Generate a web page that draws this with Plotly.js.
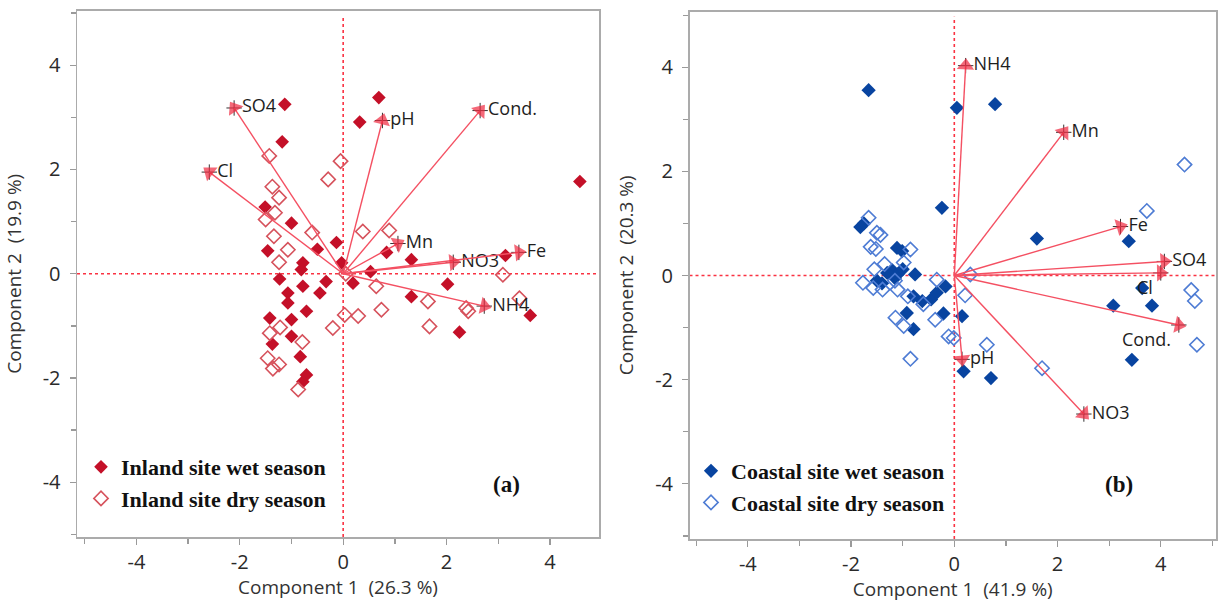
<!DOCTYPE html>
<html>
<head>
<meta charset="utf-8">
<script src="https://cdn.plot.ly/plotly-3.0.1.min.js"></script>
<style>
  html, body { margin: 0; padding: 0; background: #fff; }
  #chart { width: 1225px; height: 602px; }
</style>
</head>
<body>
<div id="chart"></div>
<script>
// ---------- Panel (a): Inland site ----------
const inlandWetX = [0.69, 0.32, -1.13, -1.18, 4.58, -1.51, -1.00, -0.13, -0.50, -1.46, -0.78, -0.81, -0.03, 0.84, 1.32, 0.53, 3.14, -1.23, -0.33, -0.78, 0.19, -1.07, -0.45, 2.02, -1.07, 1.32, -0.71, -1.42, -1.00, 3.62, -1.00, 2.25, -1.37, -0.83, -0.71, -0.78];
const inlandWetY = [3.38, 2.91, 3.25, 2.53, 1.77, 1.28, 0.97, 0.60, 0.47, 0.44, 0.21, 0.08, 0.21, 0.41, 0.27, 0.04, 0.35, -0.10, -0.15, -0.24, -0.18, -0.37, -0.37, -0.20, -0.56, -0.44, -0.72, -0.85, -0.88, -0.80, -1.20, -1.12, -1.35, -1.59, -1.94, -2.07];
const inlandDryX = [-1.43, -0.05, -0.29, -1.37, -1.24, -1.32, -1.50, -0.60, 0.38, 0.89, -1.34, -1.07, -1.24, 0.64, 3.09, 3.41, 1.64, 2.38, 2.42, 0.74, 0.29, 0.03, 1.67, -0.20, -1.22, -1.42, -0.79, -1.46, -1.24, -1.36, -0.87, 0.05];
const inlandDryY = [2.26, 2.16, 1.81, 1.67, 1.46, 1.17, 1.04, 0.79, 0.81, 0.83, 0.72, 0.46, 0.22, -0.24, -0.02, -0.47, -0.53, -0.66, -0.72, -0.69, -0.81, -0.79, -1.01, -1.04, -1.03, -1.14, -1.31, -1.62, -1.74, -1.82, -2.22, 0.00];
const inlandVars = ['SO4', 'Cl', 'pH', 'Cond.', 'Mn', 'NO3', 'Fe', 'NH4'];
const inlandLoadX = [-2.11, -2.59, 0.76, 2.65, 1.06, 2.13, 3.40, 2.73];
const inlandLoadY = [3.18, 1.95, 2.94, 3.13, 0.58, 0.22, 0.41, -0.62];
const inlandLabelPos = ['middle right', 'middle right', 'middle right', 'middle right', 'middle right', 'middle right', 'middle right', 'middle right'];

// ---------- Panel (b): Coastal site ----------
const coastalWetX = [-1.66, 0.05, 0.79, -0.24, -1.82, -1.75, -1.11, -1.01, -1.20, -1.10, -1.00, -1.15, -1.30, -1.50, -1.40, -0.76, -0.79, -0.62, -0.45, -0.34, -0.17, -0.92, -0.21, 0.15, -0.79, 0.18, 0.71, 1.60, 3.38, 3.64, 3.08, 3.83, 3.44];
const coastalWetY = [3.56, 3.22, 3.29, 1.30, 0.93, 1.00, 0.53, 0.47, 0.10, 0.02, 0.12, -0.05, 0.05, -0.10, -0.15, 0.02, -0.40, -0.49, -0.46, -0.33, -0.21, -0.72, -0.73, -0.78, -1.03, -1.84, -1.97, 0.71, 0.66, -0.24, -0.58, -0.58, -1.62];
const coastalDryX = [-1.66, -1.50, -1.43, -1.62, -1.52, -0.85, -1.35, -1.55, -0.98, -1.77, -1.57, -1.39, -1.15, -1.10, -0.34, 0.21, 0.31, -1.14, -0.98, -0.37, -0.11, -0.01, 0.63, -0.85, 4.46, 3.73, 4.59, 4.66, 4.70, 1.70, -0.60, -0.90];
const coastalDryY = [1.11, 0.82, 0.78, 0.55, 0.51, 0.50, 0.22, 0.12, 0.25, -0.14, -0.24, -0.27, -0.10, -0.27, -0.08, -0.38, 0.02, -0.81, -0.97, -0.85, -1.17, -1.20, -1.33, -1.60, 2.13, 1.24, -0.28, -0.49, -1.33, -1.78, -0.55, -0.40];
const coastalVars = ['NH4', 'Mn', 'Fe', 'SO4', 'Cl', 'Cond.', 'NO3', 'pH'];
const coastalLoadX = [0.22, 2.12, 3.22, 4.07, 4.00, 4.35, 2.51, 0.15];
const coastalLoadY = [4.03, 2.75, 0.94, 0.27, 0.05, -0.95, -2.66, -1.61];
const coastalLabelPos = ['middle right', 'middle right', 'middle right', 'middle right', 'bottom left', 'bottom left', 'middle right', 'middle right'];

const tickVals = [-4, -2, 0, 2, 4];
const tickText = ['-4', '-2', '0', '2', '4'];
const xTitles = ['Component 1\u00a0 (26.3 %)', 'Component 1\u00a0 (41.9 %)'];
const yTitles = ['Component 2\u00a0 (19.9 %)', 'Component 2\u00a0 (20.3 %)'];
const legendNames = [['Inland site wet season', 'Inland site dry season'], ['Coastal site wet season', 'Coastal site dry season']];
const panelTags = ['(a)', '(b)'];

// ---------- helpers ----------
const ARROW = 'rgb(244,80,98)';
const HEAD = 'rgb(240,40,62)';
const ZERO = 'rgb(250,50,66)';
const SANS = 'Open Sans, Noto Sans, DejaVu Sans, sans-serif';
const SERIF = 'Liberation Serif, Times New Roman, serif';

function arrowTrace(lx, ly, xa, ya) {
  const x = [], y = [], s = [];
  lx.forEach((v, i) => { x.push(0, v, null); y.push(0, ly[i], null); s.push(0, 15, 0); });
  return {
    type: 'scatter', mode: 'lines+markers', x: x, y: y, xaxis: xa, yaxis: ya,
    line: {color: ARROW, width: 1.4}, connectgaps: false,
    marker: {symbol: 'triangle-up', size: s, angleref: 'previous', color: HEAD, line: {width: 0}},
    hoverinfo: 'skip', showlegend: false
  };
}
function labelTrace(lx, ly, names, pos, xa, ya) {
  return {
    type: 'scatter', mode: 'markers+text', x: lx, y: ly, text: names, textposition: pos,
    xaxis: xa, yaxis: ya, cliponaxis: false,
    marker: {symbol: 'cross-thin', size: 11, color: '#333', line: {color: '#333', width: 1}},
    textfont: {family: SANS, size: 18, color: '#1e1e1e'},
    hoverinfo: 'skip', showlegend: false
  };
}
function pts(x, y, name, xa, ya, filled, col, size, leg) {
  return {
    type: 'scatter', mode: 'markers', x: x, y: y, name: name, xaxis: xa, yaxis: ya, legend: leg,
    marker: filled ? {symbol: 'diamond', size: size, color: col, line: {width: 0}}
                   : {symbol: 'diamond-open', size: size, color: col, line: {width: 1.6, color: col}}
  };
}

const data = [
  pts(inlandWetX, inlandWetY, legendNames[0][0], 'x', 'y', true, 'rgb(196,16,40)', 10.5, 'legend'),
  pts(inlandDryX, inlandDryY, legendNames[0][1], 'x', 'y', false, 'rgb(214,82,92)', 11, 'legend'),
  labelTrace(inlandLoadX, inlandLoadY, inlandVars, inlandLabelPos, 'x', 'y'),
  arrowTrace(inlandLoadX, inlandLoadY, 'x', 'y'),
  pts(coastalWetX, coastalWetY, legendNames[1][0], 'x2', 'y2', true, 'rgb(8,68,160)', 11, 'legend2'),
  pts(coastalDryX, coastalDryY, legendNames[1][1], 'x2', 'y2', false, 'rgb(78,124,212)', 11, 'legend2'),
  labelTrace(coastalLoadX, coastalLoadY, coastalVars, coastalLabelPos, 'x2', 'y2'),
  arrowTrace(coastalLoadX, coastalLoadY, 'x2', 'y2')
];

function xax(domain, range, title, anchor) {
  return {
    domain: domain, range: range, anchor: anchor, tickmode: 'array', tickvals: tickVals, ticktext: tickText,
    showgrid: false, zeroline: false, showline: true, mirror: true, linecolor: '#ababab', linewidth: 1.5,
    ticks: 'outside', ticklen: 6, tickwidth: 1.3, tickcolor: '#9a9a9a',
    minor: {tick0: 1, dtick: 2, ticks: 'outside', ticklen: 5, tickwidth: 1.3, tickcolor: '#9a9a9a', showgrid: false},
    tickfont: {family: SANS, size: 20, color: '#2a2a2a'},
    title: {text: title, font: {family: SANS, size: 19, color: '#333'}, standoff: 6},
    fixedrange: true
  };
}
function yax(domain, range, title, anchor) {
  const a = xax(domain, range, title, anchor);
  a.title.standoff = 16;
  a.ticklabelstandoff = 5;
  return a;
}

const dLx = [77 / 1225, 599 / 1225], dRx = [689.5 / 1225, 1216 / 1225];
const dLy = [1 - 537 / 602, 1 - 10.5 / 602], dRy = [1 - 539 / 602, 1 - 11.5 / 602];

function zeroLines(xr, yr) {
  return [
    {type: 'line', xref: xr, yref: yr + ' domain', x0: 0, x1: 0, y0: 0, y1: 0.99, line: {color: ZERO, width: 1.6, dash: 'dot'}, layer: 'below'},
    {type: 'line', xref: xr + ' domain', yref: yr, x0: 0, x1: 1, y0: 0, y1: 0, line: {color: ZERO, width: 1.6, dash: 'dot'}, layer: 'below'}
  ];
}

const legendBase = {
  xanchor: 'left', yanchor: 'top', bgcolor: 'rgba(0,0,0,0)', borderwidth: 0,
  font: {family: SERIF, size: 22, color: '#111', weight: 'bold'},
  tracegroupgap: 4, itemclick: false, itemdoubleclick: false
};

const layout = {
  width: 1225, height: 602,
  margin: {l: 0, r: 0, t: 0, b: 0},
  paper_bgcolor: '#fff', plot_bgcolor: '#fff',
  showlegend: true,
  xaxis: xax(dLx, [-5.15, 4.95], xTitles[0], 'y'),
  yaxis: yax(dLy, [-5.05, 5.05], yTitles[0], 'x'),
  xaxis2: xax(dRx, [-5.13, 5.07], xTitles[1], 'y2'),
  yaxis2: yax(dRy, [-5.06, 5.07], yTitles[1], 'x2'),
  legend: Object.assign({}, legendBase, {x: 81 / 1225, y: 1 - 446 / 602}),
  legend2: Object.assign({}, legendBase, {x: 691 / 1225, y: 1 - 450 / 602}),
  shapes: zeroLines('x', 'y').concat(zeroLines('x2', 'y2')),
  annotations: [
    {xref: 'x domain', yref: 'y domain', x: 0.852, y: 0.072, text: panelTags[0], showarrow: false,
     font: {family: SERIF, size: 23, color: '#111', weight: 'bold'}},
    {xref: 'x2 domain', yref: 'y2 domain', x: 0.846, y: 0.076, text: panelTags[1], showarrow: false,
     font: {family: SERIF, size: 23, color: '#111', weight: 'bold'}}
  ]
};

Plotly.newPlot('chart', data, layout, {displayModeBar: false, staticPlot: true});
</script>
</body>
</html>
